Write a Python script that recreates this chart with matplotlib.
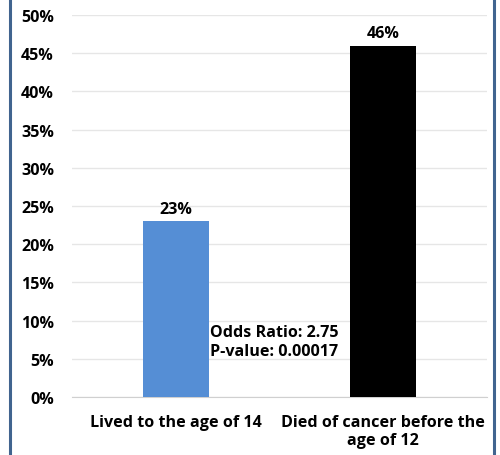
import matplotlib
matplotlib.use("Agg")
import matplotlib.pyplot as plt
from matplotlib.lines import Line2D

categories = ["Lived to the age of 14", "Died of cancer before the\nage of 12"]
values = [23, 46]
colors = ["#558ed5", "#000000"]
yticks = [0, 5, 10, 15, 20, 25, 30, 35, 40, 45, 50]
annotation = "Odds Ratio: 2.75\nP-value: 0.00017"

plt.rcParams['font.family'] = ['Open Sans', 'DejaVu Sans']
plt.rcParams['font.weight'] = 'bold'
FS = 11.6

fig = plt.figure(figsize=(5.0, 4.56), dpi=100)
ax = fig.add_axes([0.144, 0.1272, 0.83, 0.8378])

x = list(range(len(categories)))
bars = ax.bar(x, values, width=0.318, color=colors, zorder=3)
ax.set_xlim(-0.5, 1.5)
ax.set_ylim(0, 50)
ax.set_yticks(yticks)
ax.set_yticklabels([f"{v}%" for v in yticks], fontsize=FS, fontweight='bold')
ax.set_xticks(x)
ax.set_xticklabels(categories, fontsize=FS, fontweight='bold', linespacing=1.22)
ax.tick_params(axis='both', length=0)
ax.tick_params(axis='x', pad=12)
ax.tick_params(axis='y', pad=13)
ax.grid(axis='y', color='#e6e6e6', linewidth=1, zorder=0)
for s in ['top', 'right', 'left']:
    ax.spines[s].set_visible(False)
ax.spines['bottom'].set_color('#d0d0d0')

for xi, v in zip(x, values):
    ax.annotate(f"{v}%", (xi, v), xytext=(0, 3), textcoords='offset points',
                ha='center', va='bottom', fontsize=FS, fontweight='bold')

ax.text(0.165, 7.3, annotation, ha='left', va='center', fontsize=FS,
        fontweight='bold', linespacing=1.25)

for xpix in [9.5, 493.5]:
    fig.add_artist(Line2D([xpix / 500, xpix / 500], [0, 1], transform=fig.transFigure,
                          color='#41648f', linewidth=2.2))

fig.savefig("out.png", dpi=100)
